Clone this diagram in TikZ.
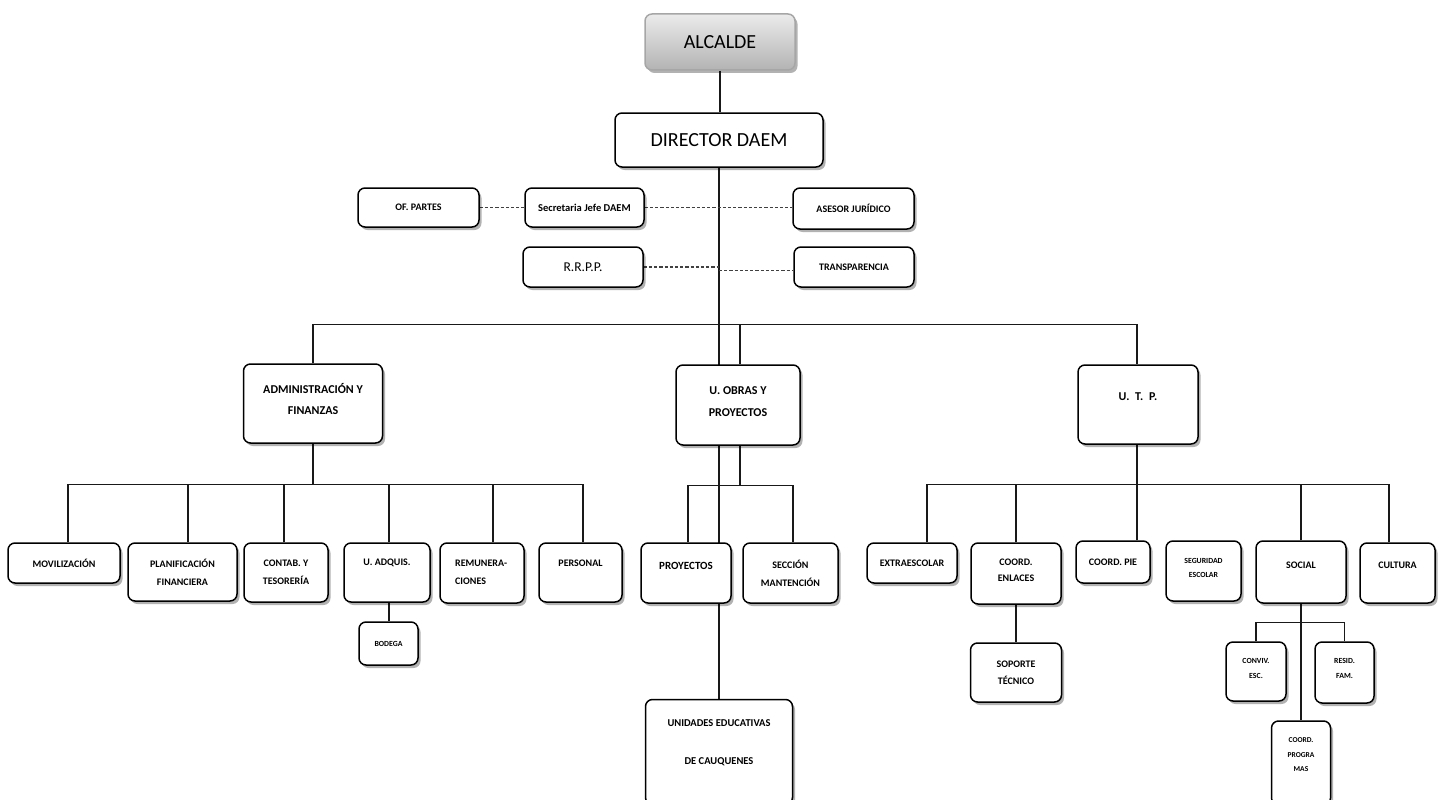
\documentclass[tikz,border=0pt]{standalone}
\usepackage{fontspec}
\setmainfont{Carlito}
\usetikzlibrary{shadows}
\pgfdeclarelayer{bg}
\pgfsetlayers{bg,main}
\tikzset{
  obox/.style={draw=black, line width=1.5pt, rounded corners=7pt, fill=white,
    drop shadow={shadow xshift=2.5pt, shadow yshift=-3pt, fill=black, opacity=0.3},
    inner sep=0pt, align=center},
  lbl/.style={font=\fontsize{10}{18}\selectfont\bfseries, align=center, inner sep=0pt},
  sml/.style={font=\fontsize{7.8}{15}\selectfont\bfseries, align=center, inner sep=0pt},
  big/.style={font=\fontsize{20}{24}\selectfont},
  midf/.style={font=\fontsize{12}{21}\selectfont\bfseries, align=center, inner sep=0pt},
  conn/.style={line width=1.3pt, black!90},
  dotl/.style={line width=1.8pt, dash pattern=on 3.2pt off 2pt, black!75},
}
\newcommand\ob[6][]{\node[obox,minimum width=#5pt,minimum height=#6pt,#1] (#2) at (#3,#4)}
\begin{document}
\begin{tikzpicture}[x=1pt,y=-1pt]
\useasboundingbox (0,0) rectangle (1440,800);
\clip (0,0) rectangle (1440,800);

% top
\ob[draw=black!35, top color=black!8, bottom color=black!30, big]{alcalde}{720}{42}{150}{56} {ALCALDE};
\ob[big]{director}{719}{140}{208}{54} {DIRECTOR DAEM};
\ob[lbl]{ofp}{418.5}{207.5}{121}{39} {OF. PARTES};
\ob[lbl, font=\fontsize{10.5}{18}\selectfont\bfseries]{sec}{584.5}{207.5}{119}{39} {Secretaria Jefe DAEM};
\ob[lbl]{ases}{853.5}{208.5}{121}{41} {ASESOR JURÍDICO};
\ob[font=\fontsize{13.5}{16}\selectfont]{rrpp}{583}{267}{120}{40} {R.R.P.P.};
\ob[lbl]{transp}{854}{267}{120}{40} {TRANSPARENCIA};

% second level
\ob{admin}{313}{403.5}{139}{79} {};
\node[midf] (tadmin) at (313,398.5) {ADMINISTRACIÓN Y\\FINANZAS};
\ob{uobras}{738}{405}{124}{80} {};
\node[midf, font=\fontsize{12}{22}\selectfont\bfseries] (tuobras) at (738,401.5) {U. OBRAS Y\\PROYECTOS};
\ob{utp}{1138}{404.5}{120}{79} {};
\node[midf] (tutp) at (1138,397) {U.\hspace{3pt} T.\hspace{3pt} P.};

% admin children
\ob[lbl]{mov}{64}{563}{112}{40} {MOVILIZACIÓN};
\ob[lbl]{planif}{182.5}{572}{109}{58} {PLANIFICACIÓN\\FINANCIERA};
\ob[lbl]{contab}{286}{572.5}{84}{59} {CONTAB. Y\\TESORERÍA};
\ob{uadq}{387}{572.5}{86}{59} {};
\node[lbl] (tuadq) at (387,563) {U. ADQUIS.};
\ob{remun}{482}{573}{84}{60} {};
\node[lbl, align=left, anchor=west] (tremun) at (455,572.5) {REMUNERA-\\CIONES};
\ob{pers}{580.5}{572.5}{83}{59} {};
\node[lbl] (tpers) at (580.5,563) {PERSONAL};
\ob[sml]{bod}{388.5}{643.5}{59}{43} {BODEGA};

% obras children
\ob{proy}{686}{573}{90}{60} {};
\node[lbl, font=\fontsize{11}{18}\selectfont\bfseries] (tproy) at (686,566) {PROYECTOS};
\ob[lbl]{secc}{790.5}{573}{95}{60} {SECCIÓN\\MANTENCIÓN};
\ob{unid}{719}{752}{147}{105} {};
\node[lbl, font=\fontsize{10.5}{38}\selectfont\bfseries] (tunid) at (719,743) {UNIDADES EDUCATIVAS\\DE CAUQUENES};

% utp children
\ob[lbl]{extra}{912}{563}{90}{40} {EXTRAESCOLAR};
\ob{enl}{1016}{573.5}{90}{61} {};
\node[lbl, font=\fontsize{10}{16}\selectfont\bfseries] (tenl) at (1016,570.5) {COORD.\\ENLACES};
\ob[lbl]{pie}{1113}{562}{74}{42} {COORD. PIE};
\ob{segur}{1203.5}{571}{75}{60} {};
\node[sml, font=\fontsize{7.8}{14}\selectfont\bfseries] (tsegur) at (1203.5,568) {SEGURIDAD\\ESCOLAR};
\ob{social}{1301}{572}{90}{62} {};
\node[lbl] (tsocial) at (1301,565) {SOCIAL};
\ob{cult}{1397.5}{573}{75}{60} {};
\node[lbl] (tcult) at (1397.5,565) {CULTURA};
\ob[lbl, font=\fontsize{10}{17}\selectfont\bfseries]{sop}{1016}{672.5}{91}{59} {SOPORTE\\TÉCNICO};
\ob{conv}{1256}{671.5}{60}{59} {};
\node[sml] (tconv) at (1256,668.5) {CONVIV.\\ESC.};
\ob{resid}{1344.5}{672.5}{59}{61} {};
\node[sml] (tresid) at (1344.5,668.5) {RESID.\\FAM.};
\ob{prog}{1301}{763}{59}{84} {};
\node[sml, font=\fontsize{7.5}{14.5}\selectfont\bfseries] (tprog) at (1301,755) {COORD.\\PROGRA\\MAS};

\begin{pgfonlayer}{bg}
  % main spine
  \draw[conn] (alcalde.south) -- (alcalde.south |- director.north);
  \draw[conn] (director.south) -- (unid.north);
  % staff
  \draw[dotl] (ofp.east) -- (sec.west);
  \draw[dotl] (sec.east) -- (sec.east -| ases.west);
  \draw[dotl] (rrpp.east) -- (rrpp.east -| director.south);
  \draw[dotl] ([yshift=-3.5pt]rrpp.east -| director.south) -- ([yshift=-3.5pt]rrpp.east -| transp.west);
  % main bus
  \draw[conn] (admin.north) -- ++(0,-39) coordinate (busL) -| ([xshift=-1pt]utp.north);
  \draw[conn] ([xshift=2pt]uobras.north) -- ([xshift=2pt]uobras.north |- busL);
  % admin bus
  \draw[conn] (admin.south) -- ++(0,40.5) coordinate (busA);
  \draw[conn] ([xshift=4pt]mov.north |- busA) -- ([xshift=2.5pt]pers.north |- busA);
  \draw[conn] ([xshift=4pt]mov.north) -- ([xshift=4pt]mov.north |- busA);
  \draw[conn] ([xshift=5.5pt]planif.north) -- ([xshift=5.5pt]planif.north |- busA);
  \draw[conn] ([xshift=-2pt]contab.north) -- ([xshift=-2pt]contab.north |- busA);
  \draw[conn] ([xshift=2pt]uadq.north) -- ([xshift=2pt]uadq.north |- busA);
  \draw[conn] ([xshift=11pt]remun.north) -- ([xshift=11pt]remun.north |- busA);
  \draw[conn] ([xshift=2.5pt]pers.north) -- ([xshift=2.5pt]pers.north |- busA);
  \draw[conn] ([xshift=2pt]uadq.south) -- ([xshift=2pt]uadq.south |- bod.north);
  % obras bus
  \draw[conn] ([xshift=2pt]uobras.south) -- ++(0,40) coordinate (busO);
  \draw[conn] ([xshift=2pt]proy.north) |- (busO) -| ([xshift=2.5pt]secc.north);
  % utp bus
  \draw[conn] ([xshift=-1pt]utp.south) -- ++(0,39.5) coordinate (busU);
  \draw[conn] ([xshift=15pt]extra.north |- busU) -- ([xshift=-8.5pt]cult.north |- busU);
  \draw[conn] ([xshift=15pt]extra.north) -- ([xshift=15pt]extra.north |- busU);
  \draw[conn] (enl.north) -- (enl.north |- busU);
  \draw[conn] ([xshift=24pt]pie.north) -- ([xshift=24pt]pie.north |- busU);
  \draw[conn] (social.north) -- (social.north |- busU);
  \draw[conn] ([xshift=-8.5pt]cult.north) -- ([xshift=-8.5pt]cult.north |- busU);
  \draw[conn] (enl.south) -- (sop.north);
  \draw[conn] (social.south) -- (prog.north);
  \draw[conn] (conv.north) -- ++(0,-19) -| (resid.north);
\end{pgfonlayer}
\end{tikzpicture}
\end{document}
